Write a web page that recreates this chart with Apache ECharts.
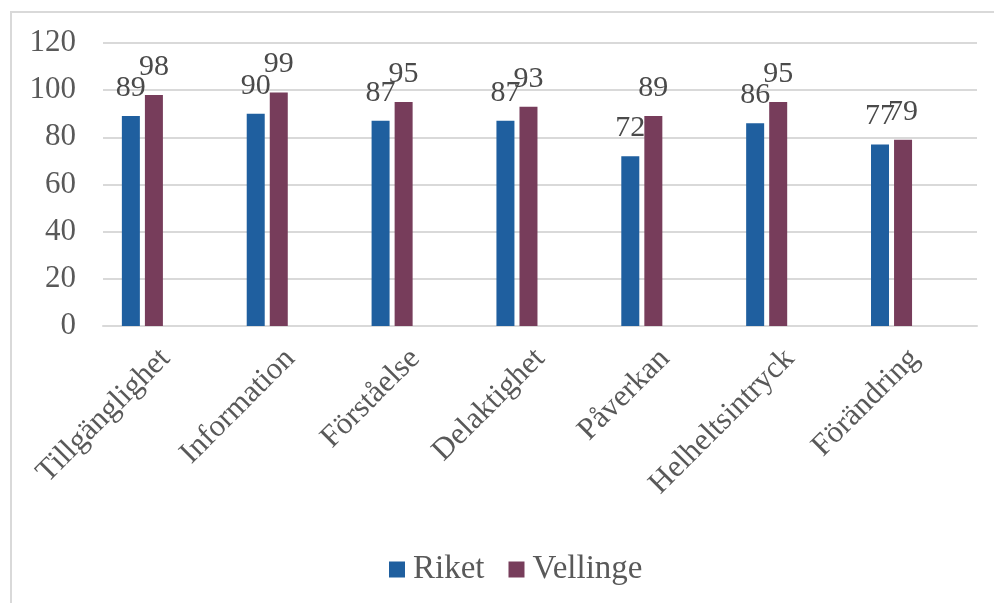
<!DOCTYPE html>
<html><head><meta charset="utf-8">
<script src="https://cdn.jsdelivr.net/npm/echarts@6/dist/echarts.min.js"></script>
<style>html,body{margin:0;padding:0;background:#fff}#c{width:994px;height:603px}</style>
</head><body><div id="c"></div>
<script>
const categories = ['Tillgänglighet','Information','Förståelse','Delaktighet','Påverkan','Helheltsintryck','Förändring'];
const riket = [89, 90, 87, 87, 72, 86, 77];
const vellinge = [98, 99, 95, 93, 89, 95, 79];
const seriesNames = ['Riket', 'Vellinge'];
const yTicks = [0, 20, 40, 60, 80, 100, 120];

const FONT = '"Liberation Serif","Times New Roman",serif';
const TXT = '#595959';
const chart = echarts.init(document.getElementById('c'), null, {renderer:'canvas'});
const lbl = {show:true, position:'top', distance:13, color:'#4a4a4a', fontFamily:FONT, fontSize:30};
chart.setOption({
  animation:false,
  graphic:[{type:'rect', shape:{x:11, y:12, width:1100, height:1000}, style:{fill:'none', stroke:'#D9D9D9', lineWidth:2}, silent:true}],
  grid:{left:103, right:17, top:43, bottom:277, containLabel:false},
  legend:{data:seriesNames, bottom:12, left:384, itemWidth:16, itemHeight:16, itemGap:24, icon:'rect',
    textStyle:{color:TXT, fontFamily:FONT, fontSize:33, padding:[0,0,0,3]}},
  xAxis:{type:'category', data:categories,
    axisLine:{lineStyle:{color:'#D9D9D9', width:2}}, axisTick:{show:false},
    axisLabel:{rotate:45, color:TXT, fontFamily:FONT, fontSize:31, margin:28, interval:0}},
  yAxis:{type:'value', min:yTicks[0], max:yTicks[yTicks.length-1], interval:20,
    axisLine:{show:false}, axisTick:{show:false},
    splitLine:{lineStyle:{color:'#D9D9D9', width:2}},
    axisLabel:{color:TXT, fontFamily:FONT, fontSize:31, margin:27}},
  series:[
    {name:seriesNames[0], type:'bar', data:riket, barWidth:18, barGap:'28%', itemStyle:{color:'#1F5F9F'}, label:lbl},
    {name:seriesNames[1], type:'bar', data:vellinge, barWidth:18, barGap:'28%', itemStyle:{color:'#773D5B'}, label:lbl},
    {name:'_a', type:'bar', data:[], barWidth:18, barGap:'28%'},
    {name:'_b', type:'bar', data:[], barWidth:18, barGap:'28%'}
  ]
});
</script></body></html>
